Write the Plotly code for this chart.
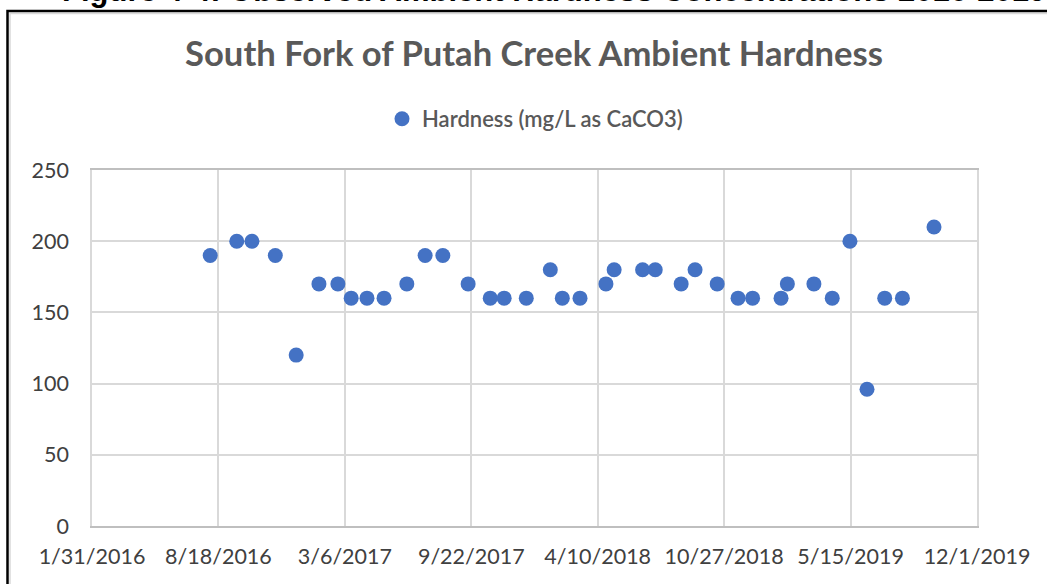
import plotly.graph_objects as go

# Sample dates and hardness values (mg/L as CaCO3)
sample_dates = [
    "2016-08-05", "2016-09-16", "2016-10-10", "2016-11-16", "2016-12-19",
    "2017-01-24", "2017-02-23", "2017-03-16", "2017-04-10", "2017-05-07",
    "2017-06-12", "2017-07-11", "2017-08-08", "2017-09-17", "2017-10-22",
    "2017-11-13", "2017-12-18", "2018-01-25", "2018-02-13", "2018-03-13",
    "2018-04-23", "2018-05-06", "2018-06-20", "2018-07-10", "2018-08-20",
    "2018-09-11", "2018-10-16", "2018-11-18", "2018-12-11", "2019-01-25",
    "2019-02-04", "2019-03-18", "2019-04-16", "2019-05-14", "2019-06-10",
    "2019-07-08", "2019-08-05", "2019-09-24",
]
hardness = [
    190, 200, 200, 190, 120,
    170, 170, 160, 160, 160,
    170, 190, 190, 170, 160,
    160, 160, 180, 160, 160,
    170, 180, 180, 180, 170,
    180, 170, 160, 160, 160,
    170, 170, 160, 200, 96,
    160, 160, 210,
]

x_tick_dates = ["2016-01-31", "2016-08-18", "2017-03-06", "2017-09-22",
                "2018-04-10", "2018-10-27", "2019-05-15", "2019-12-01"]
x_tick_labels = ["1/31/2016", "8/18/2016", "3/6/2017", "9/22/2017",
                 "4/10/2018", "10/27/2018", "5/15/2019", "12/1/2019"]
y_tick_vals = [0, 50, 100, 150, 200, 250]

series_name = "Hardness (mg/L as CaCO3)"
chart_title = "South Fork of Putah Creek Ambient Hardness"
caption = "Figure 4-4: Observed Ambient Hardness Concentrations 2016-2019"

W, H = 1047, 584
ML, MR, MT, MB = 92, 70, 170, 58
PW = W - ML - MR
PH = H - MT - MB


def px_x(p):
    return (p - ML) / PW


def px_y(p):
    return (H - MB - p) / PH


fig = go.Figure()
fig.add_trace(go.Scatter(
    x=sample_dates, y=hardness, mode="markers", name=series_name,
    marker=dict(color="#4472C4", size=15, line=dict(width=0)),
))

grid = "#D9D9D9"
fig.update_layout(
    width=W, height=H, autosize=False,
    margin=dict(l=ML, r=MR, t=MT, b=MB),
    paper_bgcolor="white", plot_bgcolor="white",
    title=dict(text="<b>" + chart_title + "</b>", x=534 / W, xanchor="center",
               y=1 - 54 / H, yanchor="middle", yref="container",
               font=dict(family="Lato", size=34.6, color="#595959")),
    showlegend=True,
    legend=dict(orientation="h", x=px_x(535), xanchor="center",
                y=px_y(119), yanchor="middle",
                font=dict(family="Lato", size=22, color="#595959",
                          weight=600),
                itemwidth=30, bgcolor="rgba(0,0,0,0)"),
    xaxis=dict(type="date", range=["2016-01-31", "2019-12-01"],
               tickvals=x_tick_dates, ticktext=x_tick_labels,
               showgrid=True, gridcolor=grid, gridwidth=1.5,
               showline=True, linecolor="#BFBFBF", linewidth=1.5, mirror=True,
               zeroline=False, ticks="", ticklabelstandoff=10,
               tickfont=dict(family="Lato", size=21.5, color="#404040")),
    yaxis=dict(range=[0, 250], tickvals=y_tick_vals,
               showgrid=True, gridcolor=grid, gridwidth=1.5,
               showline=True, linecolor=grid, linewidth=1.5, mirror=True,
               zeroline=False, ticks="", ticklabelstandoff=17,
               tickfont=dict(family="Lato", size=21.5, color="#404040")),
    shapes=[
        dict(type="rect", xref="paper", yref="paper",
             x0=px_x(10), x1=px_x(1400), y0=px_y(800), y1=px_y(13.5),
             line=dict(color="#D9D9D9", width=1.5), layer="above"),
        dict(type="rect", xref="paper", yref="paper",
             x0=px_x(7.5), x1=px_x(1400), y0=px_y(800), y1=px_y(11),
             line=dict(color="black", width=2.5), layer="above"),
    ],
    annotations=[
        dict(text="<b>" + caption + "</b>", xref="paper", yref="paper",
             x=px_x(60), xanchor="left", y=px_y(-10), yanchor="middle",
             showarrow=False,
             font=dict(family="Liberation Sans", size=31, color="black")),
    ],
)

fig.write_html("out.html", config={"displayModeBar": False},
               post_script="document.body.style.margin='0';"
                           "document.body.style.padding='0';"
                           "document.body.style.overflow='hidden';")
